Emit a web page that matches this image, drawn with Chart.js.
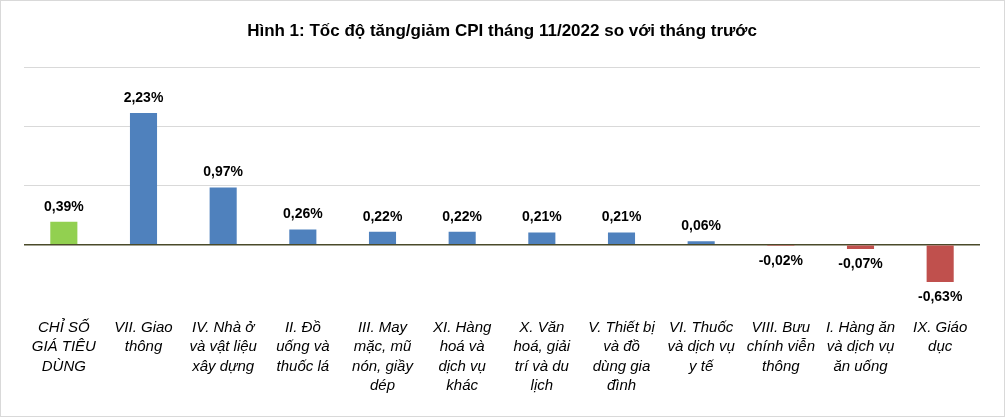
<!DOCTYPE html>
<html><head><meta charset="utf-8">
<script src="https://cdn.jsdelivr.net/npm/chart.js@4"></script>
<style>body{margin:0;background:#fff}#w{position:absolute;left:0;top:0;width:1003px;height:415px;border:1px solid #d9d9d9}</style>
</head><body><div id="w"><canvas id="c"></canvas></div>
<script>
const categories=[["CHỈ SỐ","GIÁ TIÊU","DÙNG"],["VII. Giao","thông"],["IV. Nhà ở","và vật liệu","xây dựng"],["II. Đồ","uống và","thuốc lá"],["III. May","mặc, mũ","nón, giầy","dép"],["XI. Hàng","hoá và","dịch vụ","khác"],["X. Văn","hoá, giải","trí và du","lịch"],["V. Thiết bị","và đồ","dùng gia","đình"],["VI. Thuốc","và dịch vụ","y tế"],["VIII. Bưu","chính viễn","thông"],["I. Hàng ăn","và dịch vụ","ăn uống"],["IX. Giáo","dục"]];
const values=[0.39,2.23,0.97,0.26,0.22,0.22,0.21,0.21,0.06,-0.02,-0.07,-0.63];
const colors=values.map((v,i)=>i===0?'#92D050':(v<0?'#C0504D':'#4F81BD'));
const lbl={id:'lbl',afterDatasetsDraw(ch){const c=ch.ctx;const m=ch.getDatasetMeta(0);c.save();c.font='bold 14px "Liberation Sans"';c.fillStyle='#000';c.textAlign='center';
m.data.forEach((b,i)=>{const v=values[i];const t=v.toFixed(2).replace('.',',')+'%';if(v>=0){c.textBaseline='bottom';c.fillText(t,b.x,b.y-8);}else{c.textBaseline='top';c.fillText(t,b.x,b.y+8);}});c.restore();}};
new Chart(document.getElementById('c'),{type:'bar',data:{labels:categories,datasets:[{data:values,backgroundColor:colors,barPercentage:0.34,categoryPercentage:1}]},
options:{responsive:true,maintainAspectRatio:false,animation:false,layout:{padding:{left:23,right:24,top:0,bottom:14}},
plugins:{legend:{display:false},tooltip:{enabled:false},title:{display:true,text:'Hình 1: Tốc độ tăng/giảm CPI tháng 11/2022 so với tháng trước',font:{family:'Liberation Sans',size:17,weight:'bold'},color:'#000',padding:{top:20,bottom:26}}},
scales:{x:{grid:{display:false},border:{display:false},ticks:{color:'#000',font:{family:'Liberation Sans',size:15,style:'italic',lineHeight:1.3},maxRotation:0,autoSkip:false,padding:6}},
y:{min:-1,max:3,ticks:{display:false,stepSize:1},border:{display:false},grid:{drawTicks:false,color:c=>c.tick.value===0?'#4a4a2a':(c.tick.value===-1?'rgba(0,0,0,0)':'#d9d9d9'),lineWidth:c=>c.tick.value===0?1.5:1}}}},plugins:[lbl]});
</script></body></html>
